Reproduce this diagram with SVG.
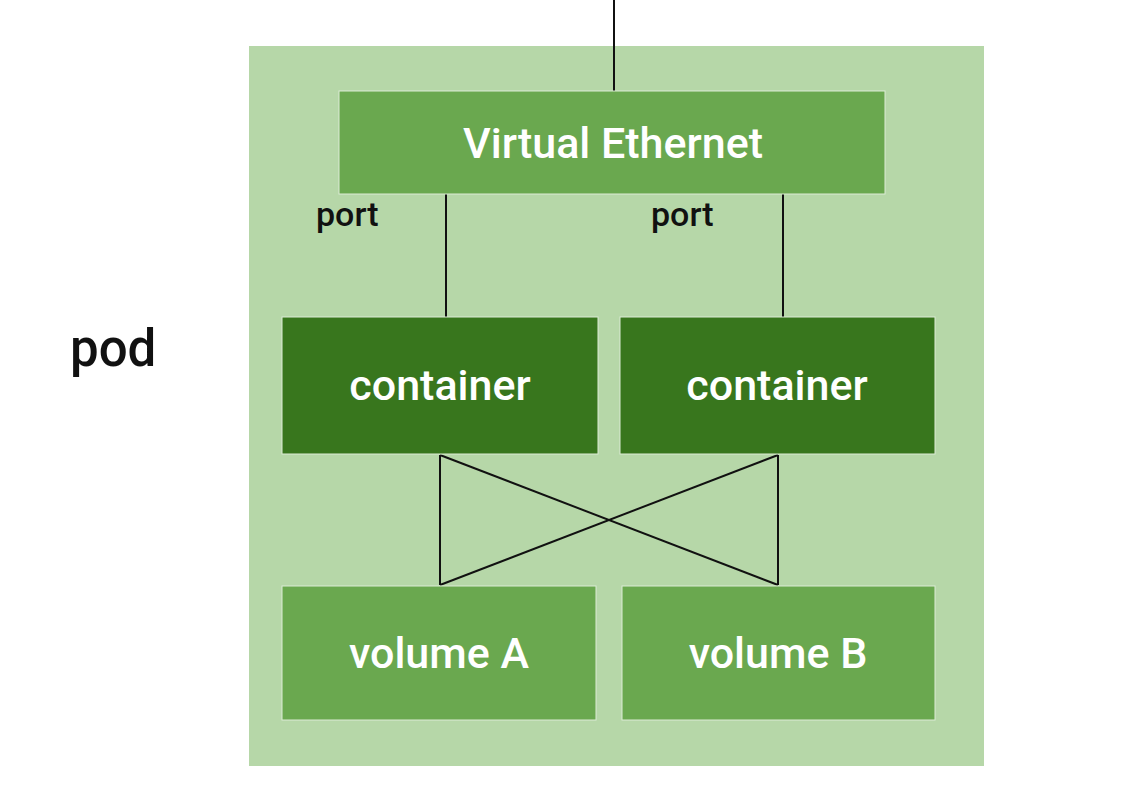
<svg xmlns="http://www.w3.org/2000/svg" width="1141" height="803" viewBox="0 0 1141 803">
<style>
.box{stroke:#dcebd5;stroke-width:1}
.mid{fill:#6aa84f}
.dark{fill:#38761d}
.lbl{font-family:Roboto,"Liberation Sans",sans-serif;font-weight:500;fill:#ffffff;text-anchor:middle;font-size:43px}
.blk{font-family:Roboto,"Liberation Sans",sans-serif;font-weight:500;fill:#111111}
.conn{stroke:#111111;stroke-width:2;fill:none}
</style>
<rect width="1141" height="803" fill="#ffffff"/>
<g id="pod">
<rect x="249" y="46" width="735" height="720" fill="#b6d7a8"/>
<text class="blk" x="70" y="366" font-size="51">pod</text>
</g>
<g id="connectors">
<line class="conn" x1="614" y1="0" x2="614" y2="91"/>
<line class="conn" x1="446" y1="194" x2="446" y2="317"/>
<line class="conn" x1="783" y1="194" x2="783" y2="317"/>
<line class="conn" x1="440" y1="455" x2="440" y2="585"/>
<line class="conn" x1="778" y1="455" x2="778" y2="585"/>
<line class="conn" x1="440" y1="455" x2="778" y2="585"/>
<line class="conn" x1="778" y1="455" x2="440" y2="585"/>
</g>
<g id="virtual-ethernet">
<rect class="box mid" x="339" y="91" width="546" height="103"/>
<text class="lbl" x="613" y="158">Virtual Ethernet</text>
</g>
<g id="port-left">
<text class="blk" x="316" y="226" font-size="34">port</text>
</g>
<g id="port-right">
<text class="blk" x="651" y="226" font-size="34">port</text>
</g>
<g id="container-1">
<rect class="box dark" x="282" y="317" width="316" height="137"/>
<text class="lbl" x="440" y="400">container</text>
</g>
<g id="container-2">
<rect class="box dark" x="620" y="317" width="315" height="137"/>
<text class="lbl" x="777" y="400">container</text>
</g>
<g id="volume-a">
<rect class="box mid" x="282" y="586" width="314" height="134"/>
<text class="lbl" x="439" y="668">volume A</text>
</g>
<g id="volume-b">
<rect class="box mid" x="622" y="586" width="313" height="134"/>
<text class="lbl" x="778" y="668">volume B</text>
</g>
</svg>
